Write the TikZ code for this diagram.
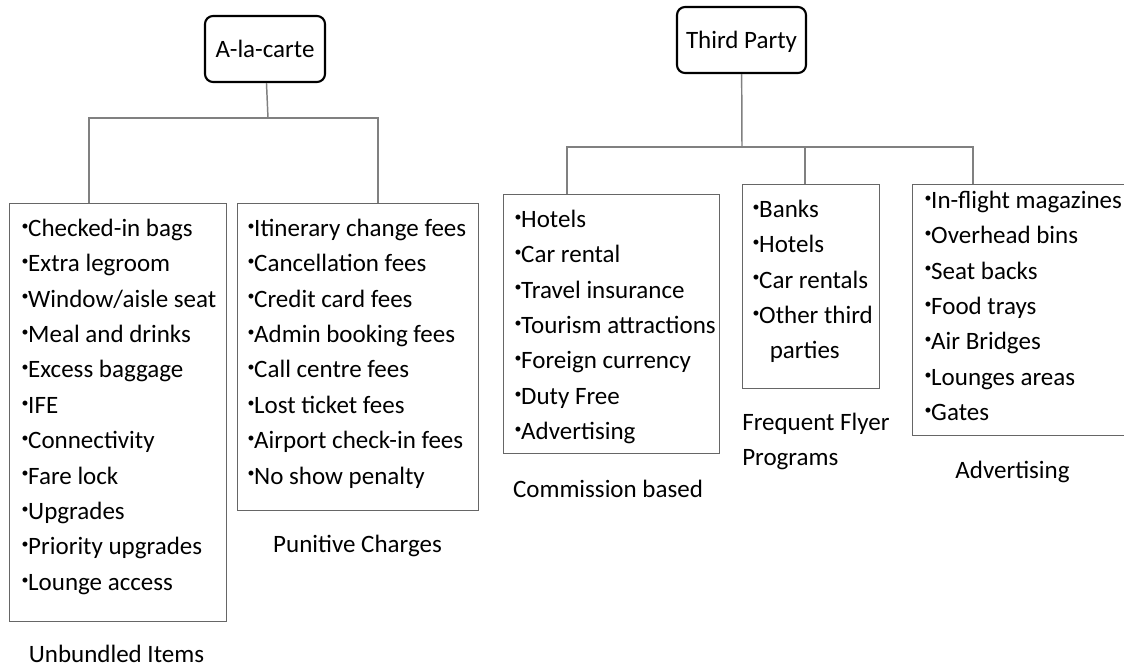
\documentclass[tikz,border=0pt]{standalone}
\usepackage{fontspec}
\setmainfont{Carlito}
\usetikzlibrary{calc}

\newcommand{\liststrut}{\rule{0pt}{18pt}}
\newcommand{\itembullet}{\makebox[5.6pt][l]{\hspace{0.6pt}\raisebox{4.6pt}{\fontsize{10.5pt}{10.5pt}\selectfont•}}}

\begin{document}
\begin{tikzpicture}[x=0.75pt, y=-0.75pt,
    every node/.style={font=\fontsize{18.75pt}{26.55pt}\selectfont},
    headbox/.style={draw=black, line width=1.6pt, rounded corners=6pt, inner sep=0pt, text depth=0pt},
    groupbox/.style={draw=black!60, line width=1pt, anchor=north west, inner sep=0pt},
    itemlist/.style={anchor=north west, align=left, inner sep=0pt},
    grouplabel/.style={anchor=base, inner sep=0pt},
    connector/.style={draw=gray, line width=1.1pt}]
    \clip (0,0) rectangle (1124,669);

    \node[headbox, minimum width=90pt, minimum height=49.5pt] (alc) at (265,49) {A-la-carte};
    \node[headbox, minimum width=96.75pt, minimum height=49.5pt] (tp) at (741.5,40) {Third Party};

    \node[groupbox, minimum width=162.75pt, minimum height=313.5pt] (unb) at (9,203) {};
    \node[groupbox, minimum width=180.75pt, minimum height=230.25pt] (pun) at (237,203) {};
    \node[groupbox, minimum width=162pt, minimum height=194.25pt] (com) at (503,194) {};
    \node[groupbox, minimum width=102.75pt, minimum height=153pt] (ff) at (742,184) {};
    \node[groupbox, minimum width=171pt, minimum height=188.25pt] (ad) at (912,184) {};

    \coordinate (alcbar) at (268,118);
    \coordinate (unbtop) at ([xshift=60pt]unb.north west);
    \coordinate (puntop) at ([xshift=105.75pt]pun.north west);
    \draw[connector] (alc) -- (alcbar);
    \draw[connector] (unbtop) |- (alcbar) -| (puntop);

    \coordinate (tpbar) at (742,147);
    \coordinate (comtop) at ([xshift=48pt]com.north west);
    \coordinate (fftop) at ([xshift=47.25pt]ff.north west);
    \coordinate (adtop) at ([xshift=45.75pt]ad.north west);
    \draw[connector] (tp) -- (tpbar);
    \draw[connector] (comtop) |- (tpbar) -| (adtop);
    \draw[connector] (fftop) -- (fftop |- tpbar);

    \node[itemlist] (unbitems) at (20.5,212) {\liststrut\itembullet Checked-in bags\\\itembullet Extra legroom\\\itembullet Window/aisle seat\\\itembullet Meal and drinks\\\itembullet Excess baggage\\\itembullet IFE\\\itembullet Connectivity\\\itembullet Fare lock\\\itembullet Upgrades\\\itembullet Priority upgrades\\\itembullet Lounge access};
    \node[itemlist] (punitems) at (246.5,212) {\liststrut\itembullet Itinerary change fees\\\itembullet Cancellation fees\\\itembullet Credit card fees\\\itembullet Admin booking fees\\\itembullet Call centre fees\\\itembullet Lost ticket fees\\\itembullet Airport check-in fees\\\itembullet No show penalty};
    \node[itemlist] (comitems) at (513.5,203) {\liststrut\itembullet Hotels\\\itembullet Car rental\\\itembullet Travel insurance\\\itembullet Tourism attractions\\\itembullet Foreign currency\\\itembullet Duty Free\\\itembullet Advertising};
    \node[itemlist] (ffitems) at (751.5,193) {\liststrut\itembullet Banks\\\itembullet Hotels\\\itembullet Car rentals\\\itembullet Other third\\\hspace*{13.5pt}parties};
    \node[itemlist] (aditems) at (923.5,184) {\liststrut\itembullet In-flight magazines\\\itembullet Overhead bins\\\itembullet Seat backs\\\itembullet Food trays\\\itembullet Air Bridges\\\itembullet Lounges areas\\\itembullet Gates};

    \node[grouplabel] (unblabel) at (116.5,662) {Unbundled Items};
    \node[grouplabel] (punlabel) at (357.5,552) {Punitive Charges};
    \node[grouplabel] (comlabel) at (608,497) {Commission based};
    \node[itemlist] (fflabel) at (742,406) {\liststrut Frequent Flyer\\Programs};
    \node[grouplabel] (adlabel) at (1012.5,478) {Advertising};
\end{tikzpicture}
\end{document}
